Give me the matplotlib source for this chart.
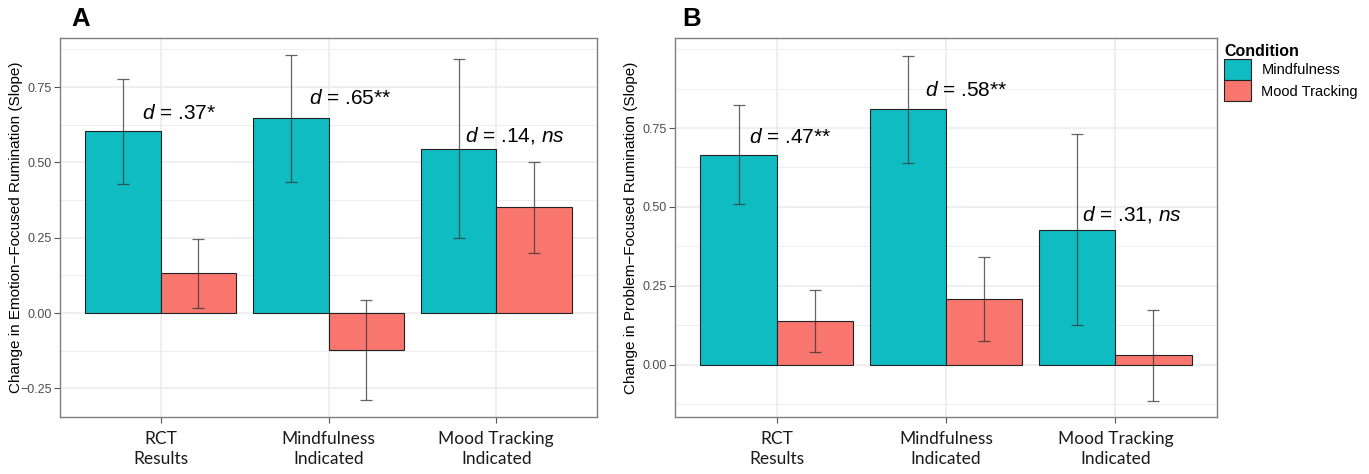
import matplotlib.pyplot as plt
import numpy as np
from matplotlib.patches import Patch

plt.rcParams['font.family'] = ['Liberation Sans', 'DejaVu Sans']
plt.rcParams['mathtext.fontset'] = 'custom'
plt.rcParams['mathtext.it'] = 'Liberation Sans:italic'
plt.rcParams['mathtext.rm'] = 'Liberation Sans'

# data
categories = ["RCT\nResults", "Mindfulness\nIndicated", "Mood Tracking\nIndicated"]
groups = ["Mindfulness", "Mood Tracking"]

emo_mind = [0.605, 0.647, 0.545]
emo_mind_lo = [0.428, 0.435, 0.249]
emo_mind_hi = [0.777, 0.855, 0.843]
emo_mood = [0.133, -0.123, 0.352]
emo_mood_lo = [0.017, -0.289, 0.199]
emo_mood_hi = [0.246, 0.043, 0.500]

prob_mind = [0.665, 0.810, 0.427]
prob_mind_lo = [0.510, 0.639, 0.127]
prob_mind_hi = [0.823, 0.978, 0.731]
prob_mood = [0.139, 0.209, 0.032]
prob_mood_lo = [0.041, 0.076, -0.114]
prob_mood_hi = [0.237, 0.342, 0.174]

emo_labels = [r"$d$ = .37*", r"$d$ = .65**", r"$d$ = .14, $ns$"]
prob_labels = [r"$d$ = .47**", r"$d$ = .58**", r"$d$ = .31, $ns$"]

# label positions (x offset from category, y in data units)
emo_lab_x = [0.11, 0.13, 0.11]
emo_lab_y = [0.664, 0.711, 0.591]
prob_lab_x = [0.08, 0.12, 0.10]
prob_lab_y = [0.72, 0.87, 0.475]

colors = ["#0FBCC2", "#F8766D"]
width = 0.45

fig = plt.figure(figsize=(13.69, 4.74), dpi=100)
axA = fig.add_axes([60/1369, 57/474, 537/1369, 379/474])
axB = fig.add_axes([675/1369, 57/474, 542/1369, 379/474])


def fmt(v):
    return f"{v:.2f}".replace("-", "\u2212")


def panel(ax, mind, mlo, mhi, mood, olo, ohi, labels, lx, ly, ylim, majors, gridlines,
          ylabel, letter, letter_x):
    x = np.arange(1, len(categories) + 1)
    for g in gridlines:
        ax.axhline(g, color="#EBEBEB", lw=0.6, zorder=0)
    for m in majors:
        ax.axhline(m, color="#EBEBEB", lw=1.1, zorder=0)
    for xi in x:
        ax.axvline(xi, color="#EBEBEB", lw=1.1, zorder=0)
    for vals, lo, hi, col, off in [(mind, mlo, mhi, colors[0], -width/2),
                                   (mood, olo, ohi, colors[1], width/2)]:
        vals = np.array(vals)
        ax.bar(x + off, vals, width=width, color=col, edgecolor="#222222", lw=0.8, zorder=2)
        yerr = [vals - np.array(lo), np.array(hi) - vals]
        ax.errorbar(x + off, vals, yerr=yerr, fmt="none", ecolor="#333333", alpha=0.75,
                    elinewidth=0.9, capsize=4, capthick=0.9, zorder=3)
    for i, t in enumerate(labels):
        ax.text(x[i] + lx[i], ly[i], t, ha="center", va="center", fontsize=15, zorder=4)
    ax.set_xlim(0.4, 3.6)
    ax.set_ylim(*ylim)
    ax.set_yticks(majors)
    ax.set_yticklabels([fmt(m) for m in majors])
    ax.set_xticks(x)
    ax.set_xticklabels(categories, family=["Lato"], fontsize=12.5, color="#1A1A1A",
                       linespacing=1.35)
    ax.tick_params(axis="y", labelsize=9, labelcolor="#4D4D4D", color="#555555", length=4,
                   pad=2)
    ax.tick_params(axis="x", color="#555555", length=4, pad=6)
    for s in ax.spines.values():
        s.set_color("#7F7F7F")
        s.set_linewidth(1.0)
    ax.set_ylabel(ylabel, fontsize=11)
    ax.yaxis.set_label_coords(-0.069, 0.5)
    ax.text(letter_x, 1.05, letter, transform=ax.transAxes, fontsize=18.5, fontweight="bold",
            va="center", ha="left")


panel(axA, emo_mind, emo_mind_lo, emo_mind_hi, emo_mood, emo_mood_lo, emo_mood_hi,
      emo_labels, emo_lab_x, emo_lab_y, (-0.345, 0.913),
      [-0.25, 0.0, 0.25, 0.5, 0.75], [-0.125, 0.125, 0.375, 0.625, 0.875],
      "Change in Emotion\u2212Focused Rumination (Slope)", "A", 0.021)
panel(axB, prob_mind, prob_mind_lo, prob_mind_hi, prob_mood, prob_mood_lo, prob_mood_hi,
      prob_labels, prob_lab_x, prob_lab_y, (-0.165, 1.035),
      [0.0, 0.25, 0.5, 0.75], [-0.125, 0.125, 0.375, 0.625, 0.875, 1.0],
      "Change in Problem\u2212Focused Rumination (Slope)", "B", 0.013)

handles = [Patch(facecolor=c, edgecolor="#222222", lw=0.8) for c in colors]
leg = fig.legend(handles, groups, loc="upper left", bbox_to_anchor=(1214/1369, 1 - 34/474),
                 frameon=False, fontsize=10.5, title="Condition", handlelength=1.85,
                 handleheight=1.85, labelspacing=0.0, handletextpad=0.7, borderpad=0.2)
leg.get_title().set_fontweight("bold")
leg.get_title().set_fontsize(11.5)
leg._legend_box.align = "left"

fig.savefig("out.png", dpi=100)
